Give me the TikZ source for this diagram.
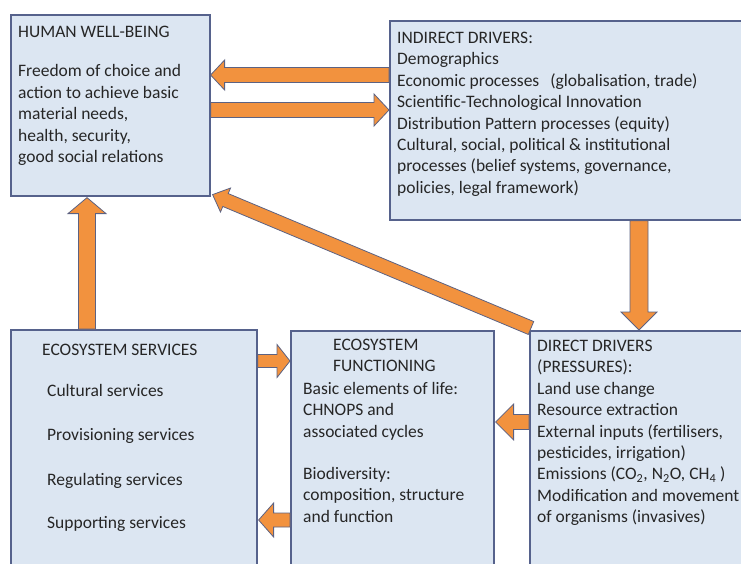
\documentclass[tikz,border=0pt]{standalone}
\usepackage{fontspec}
\setmainfont{Carlito}
\usetikzlibrary{calc}
\definecolor{boxfill}{RGB}{220,230,242}
\definecolor{boxline}{RGB}{86,98,140}
\definecolor{arrowfill}{RGB}{242,146,62}
\definecolor{arrowline}{RGB}{92,98,130}
\definecolor{txtgray}{RGB}{38,38,38}

\tikzset{
    box/.style={draw=boxline,fill=boxfill,line width=1.6pt,anchor=north west,inner sep=0pt},
    txt/.style={anchor=north west,align=left,inner sep=0pt,text=txtgray,font=\fontsize{17.5}{21.4}\selectfont},
    bigarrow/.style={fill=arrowfill,draw=arrowline,line width=0.8pt,line join=miter}
}
% block arrow: from, to, half shaft, half head, head length
\newcommand{\bigarrow}[5]{%
    \coordinate (bh) at ($(#2)!#5!(#1)$);
    \filldraw[bigarrow] ($(#1)!#3!90:(#2)$) -- ($(bh)!#3!90:(#2)$) -- ($(bh)!#4!90:(#2)$) -- (#2)
        -- ($(bh)!#4!-90:(#2)$) -- ($(bh)!#3!-90:(#2)$) -- ($(#1)!#3!-90:(#2)$) -- cycle;
}

\begin{document}
\begin{tikzpicture}[x=1pt,y=-1pt]
    \useasboundingbox (0,0) rectangle (741,563);
    \clip (0,0) rectangle (741,563);
    % boxes
    \node[box,minimum width=199,minimum height=181] (hwb) at (10,14) {};
    \node[box,minimum width=360,minimum height=199] (id) at (389,20) {};
    \node[box,minimum width=246,minimum height=245] (es) at (10,329) {};
    \node[box,minimum width=203,minimum height=245] (ef) at (290,330) {};
    \node[box,minimum width=220,minimum height=245] (dd) at (529,330) {};
    % texts
    \node[txt] (hwbtext) at ($(hwb.north west)+(8,12)$) {HUMAN WELL-BEING\\[18pt]
        Freedom of choice and\\action to achieve basic\\material needs,\\health, security,\\good social relations};
    \node[txt] (idtext) at ($(id.north west)+(8,12)$) {INDIRECT DRIVERS:\\Demographics\\
        Economic processes\hspace{11pt}(globalisation, trade)\\Scientific-Technological Innovation\\
        Distribution Pattern processes (equity)\\Cultural, social, political \& institutional\\
        processes (belief systems, governance,\\policies, legal framework)};
    \node[txt] (eshead) at ($(es.north west)+(32,15)$) {ECOSYSTEM SERVICES};
    \node[txt] (eslist) at ($(es.north west)+(37,55)$) {Cultural services\\[23pt]Provisioning services\\[23pt]
        Regulating services\\[22pt]Supporting services};
    \node[txt] (efhead) at ($(ef.north west)+(43,9)$) {ECOSYSTEM\\FUNCTIONING};
    \node[txt] (eftext) at ($(ef.north west)+(13,52)$) {Basic elements of life:\\CHNOPS and\\associated cycles\\[21pt]
        Biodiversity:\\composition, structure\\and function};
    \node[txt] (ddtext) at ($(dd.north west)+(8,10)$) {DIRECT DRIVERS\\(PRESSURES):\\Land use change\\Resource extraction\\
        External inputs (fertilisers,\\pesticides, irrigation)\\Emissions (CO\textsubscript{2}, N\textsubscript{2}O, CH\textsubscript{4} )\\
        Modification and movement\\of organisms (invasives)};
    % arrow ends
    \coordinate (a1s) at ($(id.north west)+(0,55)$);
    \coordinate (a1t) at ($(hwb.north east)+(0,61)$);
    \coordinate (a2s) at ($(hwb.north east)+(0,96)$);
    \coordinate (a2t) at ($(id.north west)+(0,90)$);
    \coordinate (a3s) at ($(id.south west)+(250,0)$);
    \coordinate (a3t) at ($(dd.north west)+(110,0)$);
    \coordinate (a4s) at ($(dd.north west)+(2,-2)$);
    \coordinate (a4t) at ($(hwb.south east)+(2,-2)$);
    \coordinate (a5s) at ($(es.north west)+(77,0)$);
    \coordinate (a5t) at ($(hwb.south west)+(77,1)$);
    \coordinate (a6s) at ($(es.north east)+(0,32)$);
    \coordinate (a6t) at ($(ef.north west)+(0,31)$);
    \coordinate (a7s) at ($(ef.north west)+(0,190)$);
    \coordinate (a7t) at ($(es.north east)+(1,191)$);
    \coordinate (a8s) at ($(dd.north west)+(0,92)$);
    \coordinate (a8t) at ($(ef.north east)+(1,92)$);
    % arrows
    \foreach \s/\t/\hw/\hh/\hl in {a1s/a1t/7.5pt/15pt/14pt,a2s/a2t/7.5pt/16pt/15pt,a3s/a3t/9pt/18pt/18pt,
        a4s/a4t/7pt/13pt/14pt,a5s/a5t/8.5pt/19pt/16pt,a6s/a6t/6.5pt/16.5pt/13pt,
        a7s/a7t/7pt/17pt/15pt,a8s/a8t/7.5pt/18pt/18pt}{
        \bigarrow{\s}{\t}{\hw}{\hh}{\hl}
    }
\end{tikzpicture}
\end{document}
